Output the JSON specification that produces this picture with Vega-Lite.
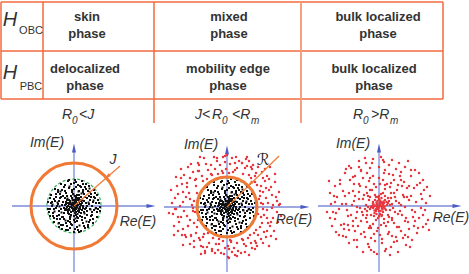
{
"$schema":"https://vega.github.io/schema/vega-lite/v6.json",
"padding":0,"bounds":"flush","spacing":0,
"config":{"view":{"stroke":null},"concat":{"spacing":0},"background":"white"},
"datasets":{
"black":[{"re":2.5,"im":0.3},{"re":2.6,"im":-0.5},{"re":2.3,"im":1.1},{"re":2.0,"im":1.6},{"re":1.5,"im":2.0},{"re":0.8,"im":2.5},{"re":0.1,"im":2.6},{"re":-0.6,"im":2.5},{"re":-1.3,"im":2.2},{"re":-1.9,"im":1.7},{"re":-2.3,"im":1.1},{"re":-2.6,"im":0.4},{"re":-2.6,"im":-0.3},{"re":-2.4,"im":-1.0},{"re":-2.0,"im":-1.6},{"re":-1.5,"im":-2.1},{"re":-0.8,"im":-2.4},{"re":0.0,"im":-2.6},{"re":0.7,"im":-2.5},{"re":1.4,"im":-2.1},{"re":1.9,"im":-1.7},{"re":2.3,"im":-1.1},{"re":2.1,"im":0.8},{"re":1.8,"im":-0.9},{"re":2.2,"im":-0.2},{"re":1.6,"im":1.4},{"re":1.1,"im":1.9},{"re":0.4,"im":2.1},{"re":-0.3,"im":2.2},{"re":-1.0,"im":1.9},{"re":-1.6,"im":1.4},{"re":-2.0,"im":0.7},{"re":-2.2,"im":0.0},{"re":-2.1,"im":-0.7},{"re":-1.7,"im":-1.3},{"re":-1.1,"im":-1.9},{"re":-0.4,"im":-2.2},{"re":0.3,"im":-2.1},{"re":1.0,"im":-2.0},{"re":1.6,"im":-1.4},{"re":2.4,"im":0.6},{"re":-2.4,"im":0.8},{"re":-1.2,"im":-2.3},{"re":1.2,"im":2.2},{"re":0.5,"im":-2.6},{"re":-0.5,"im":2.6},{"re":2.6,"im":-0.1},{"re":-2.5,"im":-0.6},{"re":1.5,"im":0.2},{"re":1.3,"im":0.8},{"re":1.0,"im":1.2},{"re":0.5,"im":1.5},{"re":-0.2,"im":1.6},{"re":-0.8,"im":1.3},{"re":-1.3,"im":0.9},{"re":-1.6,"im":0.2},{"re":-1.5,"im":-0.5},{"re":-1.2,"im":-1.1},{"re":-0.6,"im":-1.5},{"re":0.1,"im":-1.6},{"re":0.8,"im":-1.4},{"re":1.3,"im":-0.9},{"re":1.6,"im":-0.3},{"re":1.7,"im":0.9},{"re":0.9,"im":1.6},{"re":-0.5,"im":1.8},{"re":-1.4,"im":1.2},{"re":-1.8,"im":-0.2},{"re":-1.4,"im":-1.3},{"re":-0.3,"im":-1.8},{"re":0.9,"im":-1.7},{"re":1.8,"im":-0.6},{"re":1.2,"im":0.3},{"re":0.7,"im":0.9},{"re":-0.1,"im":1.2},{"re":-0.9,"im":0.8},{"re":-1.2,"im":0.1},{"re":-1.0,"im":-0.7},{"re":-0.4,"im":-1.1},{"re":0.4,"im":-1.2},{"re":1.0,"im":-0.6},{"re":1.4,"im":1.5},{"re":-1.6,"im":1.6},{"re":-1.7,"im":-1.0},{"re":1.5,"im":-1.6},{"re":0.2,"im":1.9},{"re":-0.2,"im":-1.9},{"re":1.9,"im":0.4},{"re":-1.9,"im":0.5},{"re":0.1,"im":0.2},{"re":-0.2,"im":0.1},{"re":0.3,"im":-0.1},{"re":-0.1,"im":-0.3},{"re":0.5,"im":0.4},{"re":-0.4,"im":0.5},{"re":-0.5,"im":-0.3},{"re":0.4,"im":-0.5},{"re":0.7,"im":0.1},{"re":-0.7,"im":-0.1},{"re":0.0,"im":0.6},{"re":0.1,"im":-0.7},{"re":0.2,"im":0.5},{"re":-0.3,"im":-0.6},{"re":0.6,"im":-0.3},{"re":-0.6,"im":0.3},{"re":0.3,"im":0.3},{"re":-0.2,"im":-0.2},{"re":0.2,"im":-0.3},{"re":-0.3,"im":0.2},{"re":0.0,"im":0.0},{"re":0.4,"im":0.1},{"re":-0.4,"im":-0.1},{"re":0.1,"im":0.4},{"re":-0.1,"im":-0.5},{"re":0.6,"im":0.6},{"re":-0.6,"im":-0.6},{"re":0.5,"im":-0.6},{"re":-0.5,"im":0.6},{"re":0.8,"im":0.3},{"re":-0.8,"im":0.4},{"re":0.3,"im":0.8},{"re":-0.2,"im":0.8},{"re":0.8,"im":-0.4},{"re":-0.8,"im":-0.4},{"re":0.2,"im":-0.9},{"re":-0.3,"im":-0.9},{"re":0.9,"im":0.0},{"re":-0.9,"im":0.1},{"re":0.15,"im":0.05},{"re":-0.05,"im":0.15},{"re":0.25,"im":-0.2},{"re":-0.25,"im":-0.05},{"re":0.05,"im":-0.15},{"re":0.35,"im":0.15},{"re":-0.35,"im":0.3},{"re":0.45,"im":-0.25},{"re":-0.15,"im":0.35},{"re":0.1,"im":-0.45},{"re":-0.45,"im":-0.4},{"re":1.1,"im":-1.2},{"re":-1.1,"im":1.0},{"re":0.6,"im":-1.0},{"re":-0.7,"im":1.0},{"re":1.2,"im":-0.2},{"re":-1.3,"im":-0.3},{"re":0.3,"im":1.1},{"re":-0.4,"im":-1.3},{"re":2.0,"im":-0.4},{"re":-2.0,"im":-0.3},{"re":0.6,"im":2.0},{"re":-0.7,"im":-2.0},{"re":1.7,"im":1.2},{"re":-1.5,"im":-1.7},{"re":2.2,"im":0.3},{"re":-2.2,"im":0.4},{"re":0.0,"im":2.3},{"re":0.1,"im":-2.3},{"re":1.0,"im":0.5},{"re":-0.6,"im":0.0},{"re":0.0,"im":-1.0},{"re":0.5,"im":0.8},{"re":-0.9,"im":-0.4},{"re":1.1,"im":-0.3}],
"black3":[{"re":0.2,"im":0.9},{"re":-0.3,"im":1.0},{"re":0.6,"im":0.2},{"re":-0.7,"im":0.6},{"re":0.9,"im":-0.2},{"re":-1.0,"im":-0.2},{"re":0.3,"im":-1.1},{"re":-0.5,"im":-0.8},{"re":1.1,"im":0.9},{"re":-1.1,"im":-1.1},{"re":1.3,"im":-0.5},{"re":-0.2,"im":1.4},{"re":0.7,"im":-0.7},{"re":-0.8,"im":0.2},{"re":0.0,"im":-0.3},{"re":0.4,"im":0.6},{"re":-0.6,"im":-0.4},{"re":1.6,"im":0.6},{"re":-1.5,"im":0.5},{"re":0.9,"im":1.4},{"re":-0.9,"im":1.5},{"re":0.3,"im":-1.5},{"re":-1.0,"im":-1.3},{"re":1.7,"im":-1.0},{"re":-1.8,"im":0.9},{"re":1.2,"im":1.7},{"re":-1.2,"im":1.6},{"re":1.8,"im":0.0},{"re":-1.7,"im":0.0},{"re":0.0,"im":1.7},{"re":0.0,"im":-1.4},{"re":0.7,"im":1.9},{"re":-0.8,"im":-1.7},{"re":2.0,"im":0.9},{"re":-2.1,"im":-1.0},{"re":1.4,"im":-1.9},{"re":-1.3,"im":-1.9},{"re":2.3,"im":-0.6},{"re":-2.3,"im":0.3},{"re":0.9,"im":2.2},{"re":-0.9,"im":2.1},{"re":1.1,"im":-2.2},{"re":-0.6,"im":-2.4},{"re":2.1,"im":1.3},{"re":-1.8,"im":1.2},{"re":2.4,"im":-0.3},{"re":-2.4,"im":-0.3},{"re":0.2,"im":2.4},{"re":0.4,"im":-2.4},{"re":1.9,"im":-1.3},{"re":-2.0,"im":-1.2},{"re":1.3,"im":0.0},{"re":-1.1,"im":0.4},{"re":0.5,"im":1.1},{"re":-0.4,"im":-1.6},{"re":0.8,"im":-1.1},{"re":-1.4,"im":0.8},{"re":1.5,"im":1.0},{"re":-1.5,"im":-0.9},{"re":0.1,"im":1.0},{"re":0.2,"im":-0.6},{"re":-0.5,"im":0.2},{"re":0.6,"im":-0.1},{"re":-0.15,"im":0.6},{"re":0.35,"im":-0.8},{"re":-0.75,"im":-0.25},{"re":0.85,"im":0.55},{"re":-0.65,"im":0.75},{"re":1.05,"im":-0.75},{"re":-1.25,"im":-0.65},{"re":0.45,"im":1.45},{"re":-0.35,"im":-1.05},{"re":1.45,"im":0.35},{"re":-1.45,"im":-0.05},{"re":0.15,"im":-1.25},{"re":-0.05,"im":1.15},{"re":1.65,"im":-0.35},{"re":-1.65,"im":0.35},{"re":0.75,"im":1.25},{"re":-0.85,"im":-1.45},{"re":1.95,"im":0.55},{"re":-1.95,"im":-0.55},{"re":0.55,"im":-1.95},{"re":-0.45,"im":1.95},{"re":2.15,"im":-0.25},{"re":-2.15,"im":0.15},{"re":1.25,"im":-1.55},{"re":-1.35,"im":1.45},{"re":1.55,"im":1.75},{"re":-1.55,"im":-1.75},{"re":0.3,"im":0.1},{"re":-0.1,"im":0.3},{"re":0.1,"im":-0.2},{"re":-0.3,"im":-0.1},{"re":0.5,"im":-0.4},{"re":-0.4,"im":0.4},{"re":0.2,"im":0.7},{"re":-0.6,"im":-0.7},{"re":0.7,"im":0.5},{"re":-0.8,"im":-0.3}],
"black2":[{"re":2.8,"im":0.4},{"re":-2.8,"im":-0.5},{"re":0.4,"im":2.8},{"re":-0.6,"im":-2.8},{"re":2.0,"im":2.0},{"re":-2.0,"im":2.0},{"re":-2.1,"im":-1.9},{"re":2.0,"im":-2.0},{"re":2.7,"im":-0.9},{"re":-2.7,"im":0.9},{"re":1.0,"im":2.7},{"re":-1.1,"im":-2.6},{"re":2.5,"im":1.3},{"re":-2.5,"im":-1.3},{"re":1.4,"im":-2.5},{"re":-1.3,"im":2.5}],
"red2":[{"re":3.2,"im":0.8},{"re":3.6,"im":1.5},{"re":4.1,"im":0.4},{"re":4.5,"im":1.2},{"re":5.0,"im":0.6},{"re":3.0,"im":2.2},{"re":3.8,"im":2.6},{"re":4.4,"im":2.0},{"re":2.4,"im":2.9},{"re":2.9,"im":3.4},{"re":3.5,"im":3.5},{"re":1.6,"im":3.3},{"re":2.0,"im":4.1},{"re":1.2,"im":4.6},{"re":0.6,"im":3.5},{"re":0.3,"im":4.3},{"re":0.9,"im":5.0},{"re":2.6,"im":4.2},{"re":4.8,"im":2.5},{"re":3.3,"im":1.1},{"re":4.0,"im":3.1},{"re":1.8,"im":3.9},{"re":0.5,"im":4.9},{"re":2.2,"im":3.2},{"re":3.9,"im":0.9},{"re":5.2,"im":1.5},{"re":4.6,"im":0.2},{"re":1.0,"im":3.9},{"re":2.8,"im":2.5},{"re":3.4,"im":2.1},{"re":1.5,"im":4.4},{"re":0.2,"im":3.4},{"re":3.1,"im":4.0},{"re":4.2,"im":1.7},{"re":2.5,"im":3.8},{"re":0.8,"im":4.4},{"re":5.3,"im":0.3},{"re":3.6,"im":0.3},{"re":1.9,"im":4.8},{"re":3.8,"im":3.8},{"re":-3.3,"im":0.6},{"re":-3.8,"im":1.4},{"re":-4.4,"im":0.5},{"re":-4.9,"im":1.3},{"re":-5.5,"im":0.4},{"re":-3.1,"im":2.1},{"re":-3.7,"im":2.9},{"re":-4.5,"im":2.3},{"re":-2.4,"im":2.6},{"re":-2.8,"im":3.6},{"re":-3.4,"im":3.5},{"re":-1.5,"im":3.2},{"re":-2.1,"im":4.3},{"re":-1.0,"im":4.6},{"re":-0.5,"im":3.6},{"re":-0.2,"im":4.5},{"re":-1.3,"im":5.0},{"re":-2.9,"im":4.4},{"re":-5.0,"im":2.1},{"re":-4.1,"im":1.0},{"re":-4.3,"im":3.2},{"re":-1.9,"im":3.7},{"re":-0.7,"im":4.2},{"re":-2.5,"im":3.1},{"re":-5.2,"im":0.9},{"re":-3.5,"im":0.2},{"re":-1.6,"im":4.2},{"re":-3.2,"im":2.7},{"re":-4.7,"im":0.1},{"re":-0.9,"im":3.3},{"re":-2.3,"im":4.9},{"re":-3.9,"im":4.0},{"re":-5.6,"im":1.7},{"re":-4.0,"im":2.0},{"re":-1.2,"im":3.8},{"re":-3.0,"im":1.4},{"re":-2.0,"im":2.8},{"re":-0.4,"im":5.0},{"re":-4.6,"im":2.9},{"re":-3.6,"im":4.3},{"re":-3.2,"im":-0.5},{"re":-3.7,"im":-1.3},{"re":-4.3,"im":-0.4},{"re":-4.8,"im":-1.5},{"re":-5.4,"im":-0.7},{"re":-3.0,"im":-2.0},{"re":-3.6,"im":-2.8},{"re":-4.4,"im":-2.2},{"re":-2.3,"im":-2.7},{"re":-2.7,"im":-3.3},{"re":-3.3,"im":-3.4},{"re":-1.4,"im":-3.1},{"re":-2.0,"im":-4.0},{"re":-0.9,"im":-4.3},{"re":-0.4,"im":-3.4},{"re":-0.2,"im":-4.1},{"re":-1.2,"im":-4.6},{"re":-2.6,"im":-3.9},{"re":-4.9,"im":-2.4},{"re":-4.0,"im":-0.9},{"re":-4.1,"im":-3.0},{"re":-1.8,"im":-3.6},{"re":-0.6,"im":-4.6},{"re":-2.4,"im":-3.0},{"re":-5.1,"im":-0.2},{"re":-3.4,"im":-0.1},{"re":-1.5,"im":-4.2},{"re":-3.1,"im":-2.6},{"re":-4.6,"im":-1.0},{"re":-0.8,"im":-3.2},{"re":-2.2,"im":-4.4},{"re":-3.7,"im":-3.7},{"re":-5.3,"im":-1.9},{"re":-3.9,"im":-1.9},{"re":-1.1,"im":-3.7},{"re":-2.9,"im":-1.3},{"re":-1.9,"im":-2.6},{"re":-0.3,"im":-4.7},{"re":-4.5,"im":-2.8},{"re":-3.3,"im":-4.0},{"re":3.1,"im":-0.7},{"re":3.5,"im":-1.6},{"re":4.0,"im":-0.3},{"re":4.6,"im":-1.1},{"re":5.0,"im":-0.5},{"re":2.9,"im":-2.3},{"re":3.7,"im":-2.5},{"re":4.3,"im":-1.9},{"re":2.3,"im":-2.8},{"re":2.8,"im":-3.4},{"re":3.4,"im":-3.2},{"re":1.5,"im":-3.2},{"re":1.9,"im":-3.9},{"re":1.1,"im":-4.4},{"re":0.4,"im":-3.5},{"re":0.2,"im":-4.2},{"re":0.8,"im":-4.8},{"re":2.5,"im":-4.1},{"re":4.7,"im":-2.4},{"re":3.4,"im":-1.0},{"re":3.9,"im":-3.0},{"re":1.7,"im":-3.7},{"re":0.5,"im":-4.5},{"re":2.1,"im":-3.1},{"re":4.0,"im":-1.1},{"re":5.1,"im":-1.5},{"re":4.5,"im":-0.1},{"re":1.0,"im":-3.6},{"re":2.7,"im":-2.6},{"re":3.3,"im":-2.0},{"re":1.4,"im":-4.6},{"re":0.3,"im":-3.3},{"re":3.0,"im":-3.9},{"re":4.1,"im":-1.6},{"re":2.4,"im":-3.6},{"re":0.7,"im":-4.1},{"re":3.6,"im":-0.2},{"re":1.8,"im":-4.5},{"re":3.6,"im":-3.6},{"re":4.4,"im":-2.9},{"re":4.8,"im":3.3},{"re":-5.1,"im":3.0},{"re":-5.3,"im":-2.8},{"re":4.9,"im":-3.2},{"re":0.0,"im":5.2},{"re":0.1,"im":-5.0},{"re":-0.1,"im":3.8},{"re":0.1,"im":-3.9},{"re":5.4,"im":-0.9},{"re":-5.8,"im":-0.6},{"re":2.0,"im":5.0},{"re":-2.7,"im":5.0},{"re":-2.6,"im":-4.7},{"re":2.2,"im":-4.8},{"re":4.3,"im":4.0},{"re":-4.6,"im":3.8},{"re":-4.4,"im":-3.8},{"re":4.2,"im":-3.9},{"re":3.3,"im":1.6},{"re":-3.3,"im":-1.6},{"re":1.6,"im":-3.3},{"re":-1.6,"im":3.3},{"re":4.2,"im":2.8},{"re":-4.2,"im":-2.8},{"re":2.8,"im":-4.2},{"re":-2.8,"im":4.2},{"re":3.7,"im":-0.8},{"re":-3.7,"im":0.8},{"re":0.8,"im":3.7},{"re":-0.8,"im":-3.7},{"re":4.9,"im":1.0},{"re":-4.9,"im":-1.0},{"re":1.0,"im":-4.9},{"re":-1.0,"im":4.9},{"re":3.1,"im":-2.8},{"re":-3.1,"im":2.8},{"re":2.8,"im":3.1},{"re":-2.8,"im":-3.1},{"re":4.4,"im":-1.5},{"re":-4.4,"im":1.5},{"re":1.5,"im":4.4},{"re":-1.5,"im":-4.4},{"re":3.6,"im":2.9},{"re":-3.6,"im":-2.9},{"re":2.9,"im":-3.6},{"re":-2.9,"im":3.6},{"re":2.2,"im":4.6},{"re":-2.2,"im":-4.6},{"re":3.4,"im":0.4},{"re":-3.4,"im":-0.4},{"re":0.4,"im":-3.4},{"re":-0.4,"im":3.4},{"re":4.0,"im":-2.4},{"re":-4.0,"im":2.4},{"re":2.4,"im":4.0},{"re":-2.4,"im":-4.0},{"re":5.2,"im":0.2},{"re":-5.2,"im":-0.2},{"re":0.2,"im":-5.1},{"re":-0.2,"im":5.1},{"re":3.9,"im":1.9},{"re":-3.9,"im":-1.9}],
"red3":[{"re":0.1,"im":0.1},{"re":-0.2,"im":0.2},{"re":0.3,"im":-0.1},{"re":-0.1,"im":-0.3},{"re":0.5,"im":0.3},{"re":-0.4,"im":0.6},{"re":-0.6,"im":-0.2},{"re":0.4,"im":-0.6},{"re":0.8,"im":0.1},{"re":-0.8,"im":-0.1},{"re":0.0,"im":0.7},{"re":0.1,"im":-0.8},{"re":0.2,"im":0.4},{"re":-0.3,"im":-0.5},{"re":0.7,"im":-0.4},{"re":-0.6,"im":0.4},{"re":0.3,"im":0.3},{"re":-0.2,"im":-0.1},{"re":1.0,"im":0.5},{"re":-1.0,"im":0.6},{"re":0.6,"im":1.0},{"re":-0.5,"im":-1.0},{"re":1.1,"im":-0.4},{"re":-1.2,"im":-0.5},{"re":0.2,"im":1.2},{"re":-0.1,"im":-1.2},{"re":1.3,"im":0.2},{"re":-1.3,"im":0.1},{"re":0.9,"im":-0.9},{"re":-0.9,"im":0.9},{"re":0.9,"im":0.8},{"re":-0.8,"im":-0.9},{"re":0.4,"im":1.3},{"re":-0.4,"im":1.1},{"re":0.5,"im":-1.3},{"re":-0.3,"im":-1.4},{"re":1.4,"im":-0.2},{"re":-1.4,"im":-0.3},{"re":0.05,"im":0.3},{"re":0.35,"im":-0.35},{"re":-0.35,"im":0.05},{"re":0.15,"im":-0.5},{"re":-0.55,"im":0.15},{"re":0.6,"im":0.6},{"re":-0.15,"im":0.5},{"re":1.2,"im":0.8},{"re":-1.1,"im":1.0},{"re":-1.2,"im":-0.9},{"re":1.0,"im":-1.1},{"re":0.0,"im":-0.5},{"re":0.55,"im":0.0},{"re":-0.1,"im":0.9},{"re":0.25,"im":-1.0},{"re":-0.7,"im":0.0},{"re":0.75,"im":0.4},{"re":-0.45,"im":-0.7},{"re":2.0,"im":0.3},{"re":2.4,"im":1.1},{"re":1.8,"im":1.6},{"re":1.2,"im":2.3},{"re":0.4,"im":2.6},{"re":-0.5,"im":2.2},{"re":-1.3,"im":1.9},{"re":-2.0,"im":1.4},{"re":-2.5,"im":0.5},{"re":-2.2,"im":-0.6},{"re":-1.8,"im":-1.5},{"re":-1.0,"im":-2.2},{"re":-0.2,"im":-2.5},{"re":0.7,"im":-2.0},{"re":1.5,"im":-1.7},{"re":2.3,"im":-0.9},{"re":3.0,"im":0.6},{"re":2.8,"im":1.8},{"re":2.2,"im":2.6},{"re":1.4,"im":3.1},{"re":0.5,"im":3.3},{"re":-0.6,"im":3.0},{"re":-1.6,"im":2.8},{"re":-2.5,"im":2.2},{"re":-3.0,"im":1.3},{"re":-3.3,"im":0.2},{"re":-3.1,"im":-1.0},{"re":-2.6,"im":-2.0},{"re":-1.8,"im":-2.8},{"re":-0.8,"im":-3.2},{"re":0.3,"im":-3.3},{"re":1.3,"im":-3.0},{"re":2.2,"im":-2.5},{"re":2.9,"im":-1.6},{"re":3.3,"im":-0.4},{"re":1.7,"im":0.5},{"re":1.6,"im":-0.6},{"re":-1.6,"im":0.7},{"re":-1.7,"im":-0.6},{"re":0.6,"im":1.7},{"re":-0.7,"im":1.6},{"re":0.5,"im":-1.7},{"re":-0.6,"im":-1.8},{"re":2.6,"im":-0.1},{"re":-2.7,"im":0.1},{"re":0.0,"im":2.8},{"re":0.1,"im":-2.9},{"re":1.9,"im":2.1},{"re":-2.0,"im":2.2},{"re":-2.1,"im":-2.0},{"re":2.0,"im":-2.1},{"re":2.5,"im":0.9},{"re":1.1,"im":1.9},{"re":-1.0,"im":2.5},{"re":-2.4,"im":1.0},{"re":-2.3,"im":-1.2},{"re":-0.5,"im":-2.8},{"re":1.0,"im":-2.6},{"re":2.7,"im":-1.2},{"re":3.2,"im":1.0},{"re":1.0,"im":3.2},{"re":-1.2,"im":3.3},{"re":-3.2,"im":-0.4},{"re":-1.4,"im":-3.1},{"re":1.7,"im":-3.1},{"re":3.0,"im":-2.3},{"re":2.1,"im":3.0},{"re":-2.9,"im":2.6},{"re":-3.1,"im":-1.9},{"re":0.8,"im":2.2},{"re":-0.3,"im":1.9},{"re":-1.5,"im":1.1},{"re":-1.9,"im":-0.2},{"re":-1.2,"im":-1.6},{"re":0.2,"im":-1.9},{"re":1.3,"im":-1.2},{"re":2.1,"im":-0.5},{"re":1.5,"im":1.3},{"re":-0.9,"im":-2.0},{"re":2.3,"im":2.0},{"re":-2.6,"im":-1.5},{"re":3.7,"im":0.4},{"re":4.2,"im":1.2},{"re":4.7,"im":0.3},{"re":5.1,"im":1.0},{"re":3.8,"im":2.1},{"re":4.4,"im":2.6},{"re":3.2,"im":3.0},{"re":3.6,"im":3.6},{"re":2.6,"im":3.9},{"re":2.0,"im":4.3},{"re":1.3,"im":4.6},{"re":0.5,"im":4.4},{"re":0.2,"im":4.9},{"re":-0.6,"im":4.7},{"re":-1.3,"im":4.3},{"re":-2.0,"im":4.5},{"re":-2.8,"im":3.8},{"re":-3.4,"im":3.3},{"re":-3.9,"im":2.6},{"re":-4.4,"im":2.0},{"re":-4.9,"im":1.3},{"re":-4.2,"im":0.9},{"re":-3.7,"im":0.2},{"re":-4.8,"im":0.2},{"re":-5.2,"im":-0.6},{"re":-4.4,"im":-1.3},{"re":-3.8,"im":-1.9},{"re":-4.3,"im":-2.6},{"re":-3.3,"im":-3.1},{"re":-3.0,"im":-3.7},{"re":-2.2,"im":-4.1},{"re":-1.6,"im":-4.6},{"re":-0.8,"im":-4.4},{"re":-0.2,"im":-4.8},{"re":0.6,"im":-4.5},{"re":1.2,"im":-4.1},{"re":1.9,"im":-4.6},{"re":2.7,"im":-3.9},{"re":3.3,"im":-3.4},{"re":3.8,"im":-2.7},{"re":4.4,"im":-2.1},{"re":4.0,"im":-1.2},{"re":4.9,"im":-1.4},{"re":4.6,"im":-0.4},{"re":3.6,"im":-0.6},{"re":4.0,"im":3.3},{"re":2.9,"im":4.5},{"re":-0.9,"im":3.8},{"re":-2.4,"im":3.0},{"re":-3.6,"im":1.5},{"re":-4.6,"im":-0.6},{"re":-3.5,"im":-2.3},{"re":-1.1,"im":-3.8},{"re":1.5,"im":-3.6},{"re":3.6,"im":-1.5},{"re":4.5,"im":1.6},{"re":1.7,"im":3.7},{"re":-1.8,"im":3.6},{"re":-4.0,"im":-0.3},{"re":-2.5,"im":-3.4},{"re":0.3,"im":-3.7},{"re":2.4,"im":-3.2},{"re":4.2,"im":-0.2},{"re":0.0,"im":3.9},{"re":-3.0,"im":4.0},{"re":3.1,"im":-4.1},{"re":-4.7,"im":-2.0},{"re":5.0,"im":-2.4},{"re":-5.0,"im":2.5},{"re":0.2,"im":0.0},{"re":-0.1,"im":0.05},{"re":0.0,"im":-0.15},{"re":0.4,"im":0.1},{"re":-0.3,"im":-0.3},{"re":0.15,"im":0.2},{"re":-0.25,"im":0.35},{"re":0.3,"im":-0.25},{"re":-0.05,"im":-0.05},{"re":0.45,"im":-0.15},{"re":0.1,"im":0.55},{"re":-0.5,"im":-0.05},{"re":0.9,"im":0.3},{"re":-0.9,"im":-0.3},{"re":0.3,"im":-0.9},{"re":-0.3,"im":0.9},{"re":1.6,"im":0.9},{"re":-1.6,"im":-0.9},{"re":0.9,"im":-1.6},{"re":-0.9,"im":1.6},{"re":2.2,"im":0.1},{"re":-2.2,"im":-0.1},{"re":0.1,"im":2.2},{"re":-0.1,"im":-2.2},{"re":2.8,"im":0.9},{"re":-2.8,"im":-0.9},{"re":0.9,"im":-2.8},{"re":-0.9,"im":2.8},{"re":3.5,"im":1.8},{"re":-3.5,"im":-1.8},{"re":1.8,"im":-3.5},{"re":-1.8,"im":3.5},{"re":4.3,"im":0.7},{"re":-4.3,"im":-0.7},{"re":0.7,"im":-4.3},{"re":-0.7,"im":4.3},{"re":3.9,"im":-2.2},{"re":-3.9,"im":2.2},{"re":2.2,"im":3.4},{"re":-2.2,"im":-3.4},{"re":4.8,"im":1.9},{"re":-4.5,"im":1.0},{"re":1.0,"im":4.1},{"re":-1.0,"im":-4.1},{"re":3.0,"im":2.0},{"re":-3.0,"im":-2.4},{"re":2.6,"im":-2.9},{"re":-2.6,"im":2.9},{"re":1.5,"im":2.6},{"re":-1.5,"im":-2.6},{"re":2.6,"im":-1.5},{"re":-2.6,"im":1.5},{"re":0.6,"im":3.6},{"re":-0.4,"im":-3.5},{"re":3.4,"im":-1.1},{"re":-3.4,"im":1.0},{"re":4.1,"im":2.3},{"re":-4.0,"im":-2.9},{"re":2.9,"im":-3.1},{"re":-2.0,"im":3.9},{"re":1.1,"im":-4.9},{"re":-1.4,"im":4.8},{"re":4.7,"im":-1.8},{"re":-4.9,"im":-1.2},{"re":3.2,"im":3.6},{"re":-3.3,"im":3.7},{"re":-3.6,"im":-3.0},{"re":3.5,"im":-2.0},{"re":0.6,"im":2.1},{"re":-0.8,"im":-2.2},{"re":1.9,"im":-0.8},{"re":-2.0,"im":0.7},{"re":1.2,"im":1.3},{"re":-1.3,"im":-1.2},{"re":1.3,"im":-1.4},{"re":-1.2,"im":1.3},{"re":0.45,"im":0.45},{"re":-0.45,"im":-0.45},{"re":0.6,"im":-0.25},{"re":-0.6,"im":0.25},{"re":0.25,"im":0.8},{"re":-0.25,"im":-0.8},{"re":1.1,"im":0.1},{"re":-1.1,"im":-0.1},{"re":0.0,"im":1.0},{"re":0.0,"im":-1.0},{"re":1.8,"im":-2.1},{"re":-1.9,"im":2.0},{"re":2.5,"im":2.4},{"re":-2.4,"im":-2.5},{"re":4.4,"im":-0.9},{"re":-4.4,"im":0.4},{"re":0.4,"im":4.6},{"re":-0.5,"im":-4.6}],
"lines":[{"x":1,"y":2,"x2":443,"y2":2},{"x":1,"y":51,"x2":443,"y2":51},{"x":1,"y":99,"x2":443,"y2":99},{"x":1,"y":2,"x2":1,"y2":99},{"x":43,"y":2,"x2":43,"y2":99},{"x":154,"y":2,"x2":154,"y2":123},{"x":443,"y":2,"x2":443,"y2":99}],
"cells":[{"x":87,"y":17,"t":"skin"},{"x":87,"y":34,"t":"phase"},{"x":85,"y":69,"t":"delocalized"},{"x":85,"y":86,"t":"phase"},{"x":229,"y":17,"t":"mixed"},{"x":229,"y":34,"t":"phase"},{"x":228,"y":69,"t":"mobility edge"},{"x":228,"y":86,"t":"phase"},{"x":378,"y":17,"t":"bulk localized"},{"x":378,"y":34,"t":"phase"},{"x":374,"y":69,"t":"bulk localized"},{"x":374,"y":86,"t":"phase"}],
"bigH":[{"x":10,"y":20,"t":"H"},{"x":10,"y":73,"t":"H"}],
"subH":[{"x":31,"y":31,"t":"OBC"},{"x":31,"y":87,"t":"PBC"}],
"cond":[{"x":62,"y":115,"t":"R"},{"x":79,"y":115,"t":"<J"},{"x":195,"y":115,"t":"J<"},{"x":212,"y":115,"t":"R"},{"x":232,"y":115,"t":"<R"},{"x":353,"y":115,"t":"R"},{"x":371,"y":115,"t":">R"}],
"condsub":[{"x":72,"y":121,"t":"0"},{"x":222,"y":121,"t":"0"},{"x":251,"y":121,"t":"m"},{"x":363,"y":121,"t":"0"},{"x":390,"y":121,"t":"m"}]
},
"vconcat":[
{"width":469,"height":127,
 "encoding":{"x":{"field":"x","type":"quantitative","scale":{"domain":[0,469],"nice":false,"zero":false},"axis":null},"y":{"field":"y","type":"quantitative","scale":{"domain":[0,127],"reverse":true,"nice":false,"zero":false},"axis":null}},
 "layer":[
  {"data":{"name":"lines"},"mark":{"type":"rule","color":"#F26A3C","strokeWidth":1.5},"encoding":{"x2":{"field":"x2"},"y2":{"field":"y2"}}},
  {"data":{"values":[{"x":301,"y":2,"x2":301,"y2":123}]},"mark":{"type":"rule","color":"#F6A080","strokeWidth":2},"encoding":{"x2":{"field":"x2"},"y2":{"field":"y2"}}},
  {"data":{"name":"cells"},"mark":{"type":"text","font":"Liberation Sans","fontWeight":"bold","fontSize":13,"color":"#333333","baseline":"middle","align":"center"},"encoding":{"text":{"field":"t"}}},
  {"data":{"name":"bigH"},"mark":{"type":"text","font":"Liberation Sans","fontStyle":"italic","fontSize":20,"color":"#333333","baseline":"middle","align":"center"},"encoding":{"text":{"field":"t"}}},
  {"data":{"name":"subH"},"mark":{"type":"text","font":"Liberation Sans","fontSize":11,"color":"#333333","baseline":"middle","align":"center"},"encoding":{"text":{"field":"t"}}},
  {"data":{"name":"cond"},"mark":{"type":"text","font":"Liberation Sans","fontStyle":"italic","fontSize":14,"color":"#333333","baseline":"middle","align":"left"},"encoding":{"text":{"field":"t"}}},
  {"data":{"name":"condsub"},"mark":{"type":"text","font":"Liberation Sans","fontStyle":"italic","fontSize":10,"color":"#333333","baseline":"middle","align":"left"},"encoding":{"text":{"field":"t"}}}
 ]},
{"hconcat":[
 {"width":156,"height":147,
  "encoding":{"x":{"field":"re","type":"quantitative","scale":{"domain":[-7.4,8.2],"nice":false,"zero":false},"axis":null},"y":{"field":"im","type":"quantitative","scale":{"domain":[-6.8,7.9],"nice":false,"zero":false},"axis":null}},
  "layer":[
   {"data":{"values":[{"re":-6.2,"im":0,"re2":7.6,"im2":0},{"re":0,"im":-6.6,"re2":0,"im2":5.6}]},"mark":{"type":"rule","color":"#7C8BD8","strokeWidth":1.3},"encoding":{"x2":{"field":"re2"},"y2":{"field":"im2"}}},
   {"data":{"values":[{"re":7.7,"im":0}]},"mark":{"type":"point","shape":"M-1,-0.45L1,0L-1,0.45Z","filled":true,"color":"#4A5BC4","size":80,"opacity":1}},
   {"data":{"values":[{"re":0,"im":5.8}]},"mark":{"type":"point","shape":"M-0.45,1L0,-1L0.45,1Z","filled":true,"color":"#4A5BC4","size":80,"opacity":1}},
   {"data":{"values":[{"re":0,"im":0}]},"mark":{"type":"point","shape":"circle","filled":false,"color":"#3DAF5B","strokeWidth":1.2,"strokeDash":[3,2],"size":2916,"opacity":1}},
   {"data":{"name":"black"},"mark":{"type":"square","color":"#111111","size":4,"opacity":1}},
   {"data":{"name":"black3"},"mark":{"type":"square","color":"#111111","size":4,"opacity":1}},
   {"data":{"values":[{"re":0,"im":0}]},"mark":{"type":"point","shape":"circle","filled":false,"color":"#F07A35","strokeWidth":3,"size":7396,"opacity":1}},
   {"data":{"values":[{"re":0,"im":0,"re2":4.6,"im2":4.0}]},"mark":{"type":"rule","color":"#F07A35","strokeWidth":1.2},"encoding":{"x2":{"field":"re2"},"y2":{"field":"im2"}}},
   {"data":{"values":[{"re":3.3,"im":2.9}]},"mark":{"type":"point","shape":"M-0.5,-1L0,1L0.5,-1Z","filled":true,"color":"#F07A35","size":50,"angle":49,"opacity":1}},
   {"data":{"values":[{"re":-2.7,"im":6.3,"t":"Im(E)"},{"re":6.4,"im":-1.6,"t":"Re(E)"},{"re":3.9,"im":4.6,"t":"J"}]},"mark":{"type":"text","font":"Liberation Sans","fontStyle":"italic","fontSize":14,"color":"#333333","baseline":"middle","align":"center"},"encoding":{"text":{"field":"t"}}}
  ]},
 {"width":156,"height":147,
  "encoding":{"x":{"field":"re","type":"quantitative","scale":{"domain":[-7.0,8.6],"nice":false,"zero":false},"axis":null},"y":{"field":"im","type":"quantitative","scale":{"domain":[-6.7,8.0],"nice":false,"zero":false},"axis":null}},
  "layer":[
   {"data":{"values":[{"re":-6.3,"im":0,"re2":7.7,"im2":0},{"re":0,"im":-6.5,"re2":0,"im2":5.5}]},"mark":{"type":"rule","color":"#7C8BD8","strokeWidth":1.3},"encoding":{"x2":{"field":"re2"},"y2":{"field":"im2"}}},
   {"data":{"values":[{"re":7.8,"im":0}]},"mark":{"type":"point","shape":"M-1,-0.45L1,0L-1,0.45Z","filled":true,"color":"#4A5BC4","size":80,"opacity":1}},
   {"data":{"values":[{"re":0,"im":5.7}]},"mark":{"type":"point","shape":"M-0.45,1L0,-1L0.45,1Z","filled":true,"color":"#4A5BC4","size":80,"opacity":1}},
   {"data":{"name":"red2"},"mark":{"type":"circle","color":"#E8383F","size":6,"opacity":1}},
   {"data":{"values":[{"re":0,"im":0}]},"mark":{"type":"point","shape":"circle","filled":false,"color":"#3DAF5B","strokeWidth":1.2,"strokeDash":[3,2],"size":3364,"opacity":1}},
   {"data":{"name":"black"},"mark":{"type":"square","color":"#111111","size":4,"opacity":1}},
   {"data":{"name":"black3"},"mark":{"type":"square","color":"#111111","size":4,"opacity":1}},
   {"data":{"name":"black2"},"mark":{"type":"square","color":"#111111","size":4,"opacity":1}},
   {"data":{"values":[{"re":0,"im":0}]},"mark":{"type":"point","shape":"circle","filled":false,"color":"#F07A35","strokeWidth":3,"size":3600,"opacity":1}},
   {"data":{"values":[{"re":0,"im":0,"re2":5.2,"im2":5.1}]},"mark":{"type":"rule","color":"#F07A35","strokeWidth":1.2},"encoding":{"x2":{"field":"re2"},"y2":{"field":"im2"}}},
   {"data":{"values":[{"re":2.3,"im":2.3}]},"mark":{"type":"point","shape":"M-0.5,-1L0,1L0.5,-1Z","filled":true,"color":"#F07A35","size":50,"angle":45,"opacity":1}},
   {"data":{"values":[{"re":-2.6,"im":6.2,"t":"Im(E)"},{"re":6.7,"im":-1.3,"t":"Re(E)"}]},"mark":{"type":"text","font":"Liberation Sans","fontStyle":"italic","fontSize":14,"color":"#333333","baseline":"middle","align":"center"},"encoding":{"text":{"field":"t"}}},
   {"data":{"values":[{"re":3.6,"im":4.7,"t":"ℛ"}]},"mark":{"type":"text","font":"DejaVu Sans","fontSize":16,"color":"#222222","baseline":"middle","align":"center"},"encoding":{"text":{"field":"t"}}}
  ]},
 {"width":157,"height":147,
  "encoding":{"x":{"field":"re","type":"quantitative","scale":{"domain":[-6.6,9.1],"nice":false,"zero":false},"axis":null},"y":{"field":"im","type":"quantitative","scale":{"domain":[-6.8,7.9],"nice":false,"zero":false},"axis":null}},
  "layer":[
   {"data":{"values":[{"re":-6.1,"im":0,"re2":7.7,"im2":0},{"re":0,"im":-6.6,"re2":0,"im2":5.6}]},"mark":{"type":"rule","color":"#7C8BD8","strokeWidth":1.3},"encoding":{"x2":{"field":"re2"},"y2":{"field":"im2"}}},
   {"data":{"values":[{"re":7.8,"im":0}]},"mark":{"type":"point","shape":"M-1,-0.45L1,0L-1,0.45Z","filled":true,"color":"#4A5BC4","size":80,"opacity":1}},
   {"data":{"values":[{"re":0,"im":5.8}]},"mark":{"type":"point","shape":"M-0.45,1L0,-1L0.45,1Z","filled":true,"color":"#4A5BC4","size":80,"opacity":1}},
   {"data":{"name":"red3"},"mark":{"type":"circle","color":"#E8383F","size":6,"opacity":1}},
   {"data":{"values":[{"re":-2.6,"im":6.2,"t":"Im(E)"},{"re":7.2,"im":-1.2,"t":"Re(E)"}]},"mark":{"type":"text","font":"Liberation Sans","fontStyle":"italic","fontSize":14,"color":"#333333","baseline":"middle","align":"center"},"encoding":{"text":{"field":"t"}}}
  ]}
 ]}
]
}
